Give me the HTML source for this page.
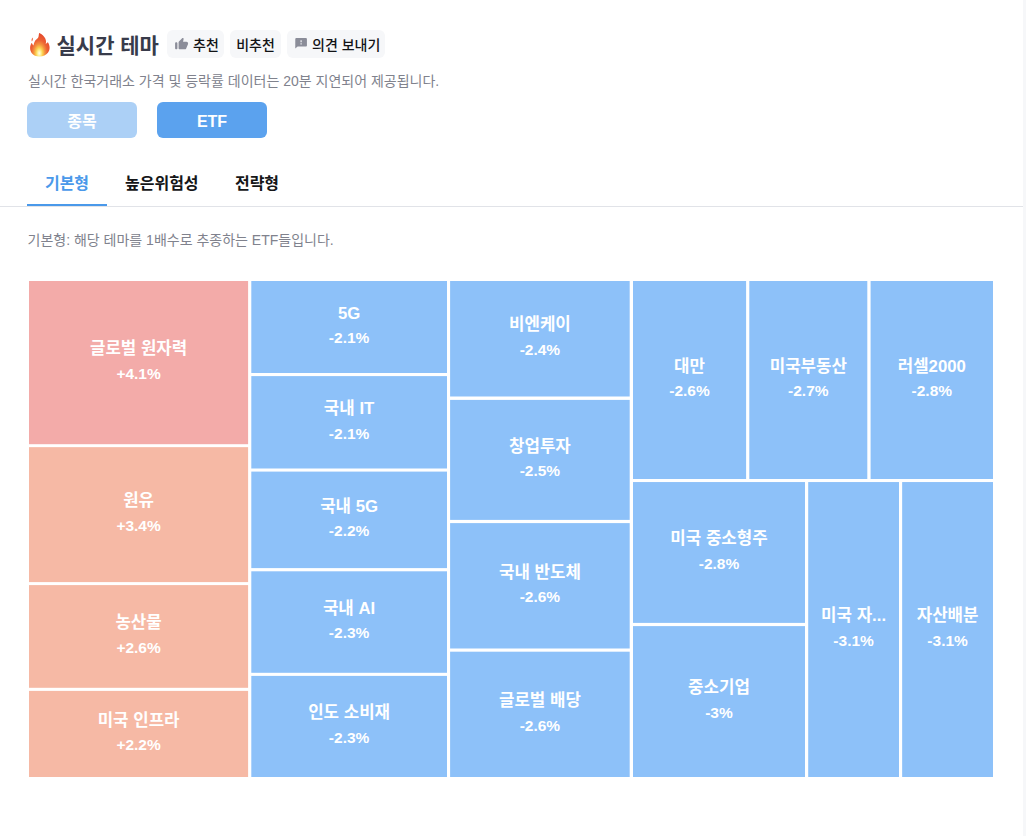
<!DOCTYPE html>
<html lang="ko"><head><meta charset="utf-8"><title>실시간 테마</title><style>
html,body{margin:0;padding:0;background:#fff}
body{position:relative;width:1026px;height:836px;overflow:hidden;font-family:"Liberation Sans","Noto Sans CJK KR",sans-serif}
.c{position:absolute;margin:0;padding:0;border:0;box-sizing:border-box;display:block;overflow:hidden;background:none;font:inherit;text-decoration:none}
.c .g{position:absolute;left:0;top:0;display:block;overflow:visible}
.c .g text{font-family:"Liberation Sans","Noto Sans CJK KR",sans-serif}
.t{position:absolute;left:0;top:0;width:100%;height:100%;overflow:hidden;white-space:nowrap;color:transparent;font-size:12px;line-height:1;text-align:center}
.chip{background:#f6f7f9;border-radius:6px}
.seg{background:#5ba2ee;border-radius:6px}
.seg.off{opacity:.5}
.tabs{position:absolute;left:0;top:160px;width:1023px;height:47px;border-bottom:1px solid #e1e3e8;box-sizing:border-box;margin:0}
.tabs .ink{position:absolute;left:27px;top:44px;width:80px;height:2px;background:#4a99ea}
.treemap{position:absolute;display:block}
.edge{position:absolute;left:1023px;top:0;width:3px;height:836px;background:#f6f7f9}
.treemap text{font-family:"Liberation Sans","Noto Sans CJK KR",sans-serif;font-weight:700;text-anchor:middle;fill:#fff}
.treemap text.n{font-size:16.8px}
.treemap text.p{font-size:15.5px}
</style></head><body>
<h1 class="c title" style="left:24px;top:28px;width:140px;height:32px;"><svg class="g" width="140" height="32" viewBox="0 0 140 32" aria-hidden="true"><defs><radialGradient id="fg" gradientUnits="userSpaceOnUse" cx="15.3" cy="24.8" r="12.5" gradientTransform="translate(0 24.8) scale(1 1.62) translate(0 -24.8)"><stop offset="0" stop-color="#fffde8"/><stop offset=".12" stop-color="#fff2a0"/><stop offset=".27" stop-color="#fbcf4e"/><stop offset=".44" stop-color="#f4933e"/><stop offset=".64" stop-color="#ec6234"/><stop offset="1" stop-color="#e4472b"/></radialGradient></defs><g transform="translate(0 .4)"><path fill="url(#fg)" d="M15.3 4.3c.5 .5 1.2 .9 1.9 1.4 1.1 .8 2.2 1.7 3.1 2.9 .9 1.100 1.500 2.400 1.700 3.900 .1 1.100 0 2.100 -.3 3.100 .7 -.3 1.200 -.8 1.600 -1.400 .2 -.3 .5 -.3 .7 0 .9 1.300 1.500 2.900 1.600 4.700 .1 2.100 -.5 4 -1.700 5.500 -1.800 2.300 -4.700 3.700 -8.300 3.700 -3.500 0 -6.300 -1.300 -8 -3.600 -1.100 -1.500 -1.600 -3.300 -1.500 -5.300 .1 -1.700 .6 -3.200 1.300 -4.300 .2 -.3 .5 -.3 .600 0 .3 .9 .8 1.700 1.500 2.300 .1 -1.300 .5 -2.700 1.100 -3.900 .5 -1 1.100 -1.900 2 -2.500 .5 -.4 1 -.6 1.400 -1.100 .5 -.7 .6 -1.600 .7 -2.500 .100 -1.200 .3 -2.300 .7 -3.200z"/><path fill="#ea5a33" opacity=".85" d="M8.600 9.200c.7 1.100 .4 2.600 -.7 3.900 -.7 -1.300 -.4 -2.800 .7 -3.900z"/></g><text x="32.5" y="24.8" font-size="21" font-weight="700" fill="#383b4a">실시간 테마</text></svg><span class="t">🔥 실시간 테마</span></h1>
<button class="c chip" style="left:167px;top:30px;width:57px;height:28px;"><svg class="g" width="57" height="28" viewBox="0 0 57 28" aria-hidden="true"><path transform="translate(7.50 7.10) scale(.58333 0.5833)" fill="#8b8d99" d="M13.120 2.060L7.580 7.600c-.37.37-.58.88-.58 1.410V19c0 1.100.9 2 2 2h9c.8 0 1.520-.48 1.840-1.210l3.260-7.610C23.940 10.200 22.490 8 20.340 8h-5.650l.95-4.580c.1-.5-.05-1.010-.41-1.370-.59-.58-1.530-.58-2.110.010zM3 21c1.100 0 2-.9 2-2v-8c0-1.100-.9-2-2-2s-2 .9-2 2v8c0 1.100.9 2 2 2z"/><text x="26" y="19.9" font-size="14" font-weight="500" fill="#121316">추천</text></svg><span class="t">추천</span></button>
<button class="c chip" style="left:230px;top:30px;width:51px;height:28px;"><svg class="g" width="51" height="28" viewBox="0 0 51 28" aria-hidden="true"><text x="25.5" y="19.9" font-size="14" font-weight="500" fill="#121316" text-anchor="middle">비추천</text></svg><span class="t">비추천</span></button>
<button class="c chip" style="left:287px;top:30px;width:98px;height:28px;"><svg class="g" width="98" height="28" viewBox="0 0 98 28" aria-hidden="true"><path transform="translate(7.10 7.05) scale(.58333 0.5250)" fill="#8b8d99" d="M20 2H4c-1.100 0-1.990.9-1.990 2L2 22l4-4h14c1.100 0 2-.9 2-2V4c0-1.100-.9-2-2-2zm-7 12h-2v-2h2v2zm0-4h-2V6h2v4z"/><text x="25" y="19.9" font-size="14" font-weight="500" fill="#121316">의견 보내기</text></svg><span class="t">의견 보내기</span></button>
<p class="c" style="left:24px;top:68px;width:420px;height:24px;"><svg class="g" width="420" height="24" viewBox="0 0 420 24" aria-hidden="true"><text x="4" y="17.8" font-size="14" fill="#80828d">실시간 한국거래소 가격 및 등락률 데이터는 20분 지연되어 제공됩니다.</text></svg><span class="t">실시간 한국거래소 가격 및 등락률 데이터는 20분 지연되어 제공됩니다.</span></p>
<button class="c seg off" style="left:27px;top:102px;width:110px;height:36px;"><svg class="g" width="110" height="36" viewBox="0 0 110 36" aria-hidden="true"><text x="55" y="24.95" font-size="16" font-weight="700" fill="#fff" text-anchor="middle">종목</text></svg><span class="t">종목</span></button>
<button class="c seg" style="left:157px;top:102px;width:110px;height:36px;"><svg class="g" width="110" height="36" viewBox="0 0 110 36" aria-hidden="true"><text x="55" y="24.93" font-size="16" font-weight="700" fill="#fff" text-anchor="middle">ETF</text></svg><span class="t">ETF</span></button>
<nav class="tabs"><a class="c tab on" style="left:27px;top:0px;width:80px;height:46px;"><svg class="g" width="80" height="46" viewBox="0 0 80 46" aria-hidden="true"><text x="40" y="29.1" font-size="16" font-weight="700" fill="#4a99ea" text-anchor="middle">기본형</text></svg><span class="t">기본형</span></a><a class="c tab" style="left:107px;top:0px;width:109.6px;height:46px;"><svg class="g" width="109.6" height="46" viewBox="0 0 109.6 46" aria-hidden="true"><text x="54.8" y="29.1" font-size="16" font-weight="700" fill="#151618" text-anchor="middle">높은위험성</text></svg><span class="t">높은위험성</span></a><a class="c tab" style="left:216.6px;top:0px;width:80px;height:46px;"><svg class="g" width="80" height="46" viewBox="0 0 80 46" aria-hidden="true"><text x="40" y="29.1" font-size="16" font-weight="700" fill="#151618" text-anchor="middle">전략형</text></svg><span class="t">전략형</span></a><i class="ink"></i></nav>
<p class="c" style="left:24px;top:226px;width:320px;height:26px;"><svg class="g" width="320" height="26" viewBox="0 0 320 26" aria-hidden="true"><text x="3.5" y="18.9" font-size="14" fill="#80828d">기본형: 해당 테마를 1배수로 추종하는 ETF들입니다.</text></svg><span class="t">기본형: 해당 테마를 1배수로 추종하는 ETF들입니다.</span></p>
<svg class="treemap" width="986" height="516" viewBox="0 0 986 516" role="img" style="left:20px;top:272px"><g fill="#fff" stroke="#fff" stroke-width="0" stroke-linejoin="round"><g><rect x="9.00" y="9.00" width="219.10" height="163.20" fill="#f3aba9"/><text class="n" x="118.6" y="82.3">글로벌 원자력</text><text class="p" x="118.6" y="106.9">+4.1%</text></g><g><rect x="9.00" y="175.15" width="219.10" height="134.95" fill="#f6b9a5"/><text class="n" x="118.6" y="234.3">원유</text><text class="p" x="118.6" y="258.9">+3.4%</text></g><g><rect x="9.00" y="313.10" width="219.10" height="102.70" fill="#f6b9a5"/><text class="n" x="118.6" y="356.2">농산물</text><text class="p" x="118.6" y="380.8">+2.6%</text></g><g><rect x="9.00" y="418.90" width="219.10" height="86.10" fill="#f6b9a5"/><text class="n" x="118.6" y="453.7">미국 인프라</text><text class="p" x="118.6" y="478.2">+2.2%</text></g><g><rect x="231.30" y="9.00" width="195.70" height="92.00" fill="#8dc1f9"/><text class="n" x="329.1" y="46.7">5G</text><text class="p" x="329.1" y="71.3">-2.1%</text></g><g><rect x="231.30" y="104.10" width="195.70" height="92.40" fill="#8dc1f9"/><text class="n" x="329.1" y="142.0">국내 IT</text><text class="p" x="329.1" y="166.6">-2.1%</text></g><g><rect x="231.30" y="199.60" width="195.70" height="96.50" fill="#8dc1f9"/><text class="n" x="329.1" y="239.6">국내 5G</text><text class="p" x="329.1" y="264.1">-2.2%</text></g><g><rect x="231.30" y="299.30" width="195.70" height="101.50" fill="#8dc1f9"/><text class="n" x="329.1" y="341.8">국내 AI</text><text class="p" x="329.1" y="366.3">-2.3%</text></g><g><rect x="231.30" y="403.90" width="195.70" height="101.10" fill="#8dc1f9"/><text class="n" x="329.1" y="446.2">인도 소비재</text><text class="p" x="329.1" y="470.8">-2.3%</text></g><g><rect x="430.10" y="9.00" width="179.60" height="115.50" fill="#8dc1f9"/><text class="n" x="519.9" y="58.4">비엔케이</text><text class="p" x="519.9" y="83.1">-2.4%</text></g><g><rect x="430.10" y="127.90" width="179.60" height="120.00" fill="#8dc1f9"/><text class="n" x="519.9" y="179.6">창업투자</text><text class="p" x="519.9" y="204.2">-2.5%</text></g><g><rect x="430.10" y="251.10" width="179.60" height="125.40" fill="#8dc1f9"/><text class="n" x="519.9" y="305.5">국내 반도체</text><text class="p" x="519.9" y="330.1">-2.6%</text></g><g><rect x="430.10" y="379.70" width="179.60" height="125.30" fill="#8dc1f9"/><text class="n" x="519.9" y="434.1">글로벌 배당</text><text class="p" x="519.9" y="458.6">-2.6%</text></g><g><rect x="613.00" y="9.00" width="113.10" height="198.00" fill="#8dc1f9"/><text class="n" x="669.5" y="99.7">대만</text><text class="p" x="669.5" y="124.3">-2.6%</text></g><g><rect x="729.30" y="9.00" width="118.00" height="198.00" fill="#8dc1f9"/><text class="n" x="788.3" y="99.7">미국부동산</text><text class="p" x="788.3" y="124.3">-2.7%</text></g><g><rect x="850.60" y="9.00" width="122.40" height="198.00" fill="#8dc1f9"/><text class="n" x="911.8" y="99.7">러셀2000</text><text class="p" x="911.8" y="124.3">-2.8%</text></g><g><rect x="613.00" y="210.05" width="172.00" height="140.85" fill="#8dc1f9"/><text class="n" x="699.0" y="272.2">미국 중소형주</text><text class="p" x="699.0" y="296.8">-2.8%</text></g><g><rect x="613.00" y="354.10" width="172.00" height="150.90" fill="#8dc1f9"/><text class="n" x="699.0" y="421.2">중소기업</text><text class="p" x="699.0" y="445.8">-3%</text></g><g><rect x="788.20" y="210.05" width="90.80" height="294.95" fill="#8dc1f9"/><text class="n" x="833.6" y="349.2">미국 자...</text><text class="p" x="833.6" y="373.8">-3.1%</text></g><g><rect x="882.15" y="210.05" width="90.85" height="294.95" fill="#8dc1f9"/><text class="n" x="927.6" y="349.2">자산배분</text><text class="p" x="927.6" y="373.8">-3.1%</text></g></g></svg>
<div class="edge"></div>
</body></html>
